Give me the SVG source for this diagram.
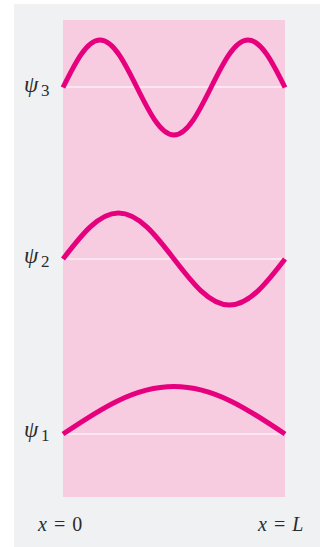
<svg xmlns="http://www.w3.org/2000/svg" width="320" height="547" viewBox="0 0 320 547">
<style>
.lbl{font-family:"Liberation Serif","DejaVu Serif",serif;font-style:italic;fill:#2b2b2b;font-size:23px}
.sub{font-family:"Liberation Serif","DejaVu Serif",serif;font-style:normal;fill:#2b2b2b;font-size:17px}
.ax{font-family:"Liberation Serif","DejaVu Serif",serif;fill:#2b2b2b;font-size:20px;word-spacing:2px}
.wave{fill:none;stroke:#e6007e;stroke-width:5;stroke-linecap:butt}
.base{stroke:#ffffff;stroke-width:1.2}
</style>
<rect x="14" y="4" width="306" height="543" fill="#f0f1f3"/>
<rect x="63" y="20" width="222" height="477" fill="#f8cce0"/>
<g id="baselines">
<line class="base" x1="63" y1="87" x2="285" y2="87"/>
<line class="base" x1="63" y1="259" x2="285" y2="259"/>
<line class="base" x1="63" y1="434" x2="285" y2="434"/>
</g>
<g id="psi3">
<path class="wave" d="M63,87.5 C75.07,63.17 86.61,40 100,40 S124.93,63.17 137,87.5 S160.61,135 174,135 S198.93,111.83 211,87.5 S234.61,40 248,40 S272.93,63.17 285,87.5"/>
<text x="24" y="92" class="lbl">ψ</text><text x="41" y="96" class="sub">3</text>
</g>
<g id="psi2">
<path class="wave" d="M63,259 C81.1,235.43 98.41,213 118.5,213 S155.9,235.43 174,259 S209.41,305 229.5,305 S266.9,282.57 285,259"/>
<text x="24" y="263" class="lbl">ψ</text><text x="41" y="266.5" class="sub">2</text>
</g>
<g id="psi1">
<path class="wave" d="M63,434 C99.2,409.67 133.83,386.5 174,386.5 S248.8,409.67 285,434"/>
<text x="24" y="437" class="lbl">ψ</text><text x="41" y="440.5" class="sub">1</text>
</g>
<g id="axis-labels">
<text x="38" y="531" class="ax"><tspan font-style="italic">x</tspan> = 0</text>
<text x="258" y="531" class="ax"><tspan font-style="italic">x</tspan> = <tspan font-style="italic">L</tspan></text>
</g>
</svg>
